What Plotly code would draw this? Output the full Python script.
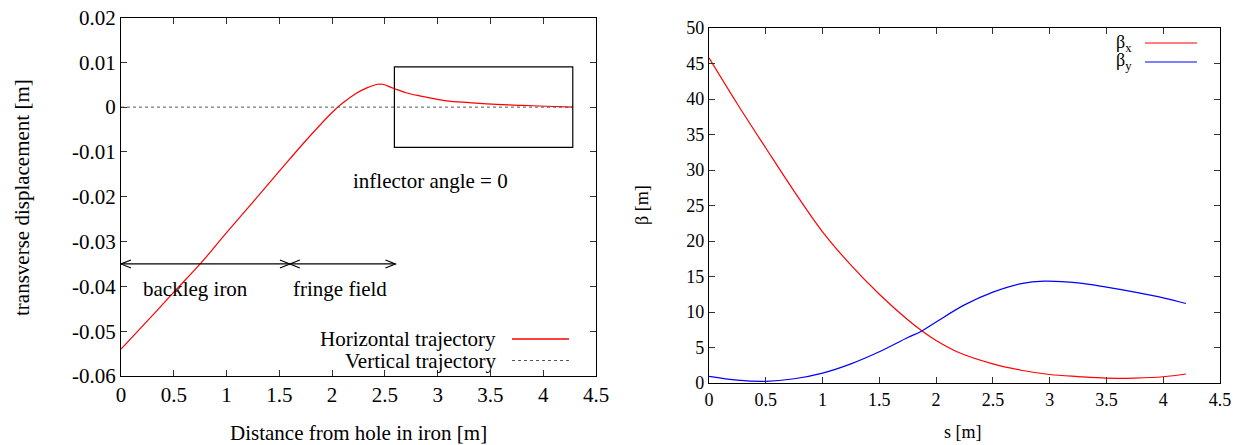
import plotly.graph_objects as go

# ---------------- Data: left panel (trajectory) ----------------
traj_s = [0.0, 0.25, 0.5, 0.75, 1.0, 1.25, 1.5, 1.75, 2.0, 2.1, 2.23, 2.33, 2.43, 2.48,
          2.58, 2.70, 2.83, 3.08, 3.3, 3.56, 3.8, 4.03, 4.28]
traj_x = [-0.054, -0.0477, -0.0413, -0.035, -0.0280, -0.0212, -0.0143, -0.0075, -0.0012, 0.0009,
          0.0031, 0.0043, 0.0051, 0.0051, 0.0042, 0.0032, 0.0025, 0.0014, 0.001, 0.0006, 0.0004,
          0.0002, 0.0]
traj_y_s = [0.0, 4.28]
traj_y = [0.0, 0.0]

box_s = [2.59, 4.28]
box_v = [-0.009, 0.009]
arrow_y = -0.035
arrow_segments = [(0.0, 1.6), (1.6, 2.6)]
region_labels = [("backleg iron", 0.71, -0.0405), ("fringe field", 2.07, -0.0405),
                 ("inflector angle = 0", 2.93, -0.0164)]

left_xticks = [0, 0.5, 1, 1.5, 2, 2.5, 3, 3.5, 4, 4.5]
left_xticktext = ["0", "0.5", "1", "1.5", "2", "2.5", "3", "3.5", "4", "4.5"]
left_yticks = [0.02, 0.01, 0, -0.01, -0.02, -0.03, -0.04, -0.05, -0.06]
left_yticktext = ["0.02", "0.01", "0", "-0.01", "-0.02", "-0.03", "-0.04", "-0.05", "-0.06"]

# ---------------- Data: right panel (beta functions) ----------------
beta_s = [0.0, 0.25, 0.5, 0.75, 1.0, 1.25, 1.5, 1.75, 1.87, 2.0, 2.2, 2.5, 2.75, 3.0,
          3.25, 3.5, 3.75, 4.0, 4.2]
beta_x = [45.8, 39.3, 33.1, 27.0, 21.3, 16.6, 12.5, 8.9, 7.4, 6.0, 4.3, 2.7, 1.8, 1.2,
          0.9, 0.68, 0.7, 0.88, 1.27]
beta_y_s = [0.0, 0.25, 0.5, 0.75, 1.0, 1.25, 1.5, 1.75, 1.87, 2.0, 2.25, 2.5, 2.75, 2.95,
            3.25, 3.5, 3.75, 4.0, 4.2]
beta_y = [0.94, 0.4, 0.24, 0.6, 1.4, 2.7, 4.4, 6.4, 7.3, 8.6, 11.0, 12.8, 14.0, 14.35,
          14.1, 13.5, 12.8, 12.0, 11.2]

right_xticks = left_xticks
right_xticktext = left_xticktext
right_yticks = [0, 5, 10, 15, 20, 25, 30, 35, 40, 45, 50]

FONT = "Liberation Serif, Times New Roman, Times, serif"
LF = 21   # left panel text size
RF = 18   # right panel text size
W, H = 1241, 445

fig = go.Figure()

fig.add_trace(go.Scatter(x=traj_s, y=traj_x, mode="lines", line=dict(color="#ff0000", width=1.2, shape="spline"),
                         xaxis="x", yaxis="y", showlegend=False))
fig.add_trace(go.Scatter(x=traj_y_s, y=traj_y, mode="lines", line=dict(color="#555555", width=1, dash="dot"),
                         xaxis="x", yaxis="y", showlegend=False))
fig.add_trace(go.Scatter(x=beta_s, y=beta_x, mode="lines", line=dict(color="#ff0000", width=1.2, shape="spline"),
                         xaxis="x2", yaxis="y2", showlegend=False))
fig.add_trace(go.Scatter(x=beta_y_s, y=beta_y, mode="lines", line=dict(color="#0000ff", width=1.2, shape="spline"),
                         xaxis="x2", yaxis="y2", showlegend=False))

# pixel frames
L = dict(x0=121, x1=596, y0=17.5, y1=376)
R = dict(x0=709, x1=1220, y0=28, y1=383)

axis_common = dict(showline=True, linecolor="black", linewidth=1.2, mirror="allticks", ticks="inside",
                   ticklen=6, tickcolor="#333", showgrid=False, zeroline=False, automargin=False)

fig.update_layout(
    width=W, height=H, margin=dict(l=0, r=0, t=0, b=0, pad=0, autoexpand=False),
    paper_bgcolor="white", plot_bgcolor="white",
    font=dict(family=FONT, color="black"),
    xaxis=dict(domain=[L["x0"] / W, L["x1"] / W], range=[0, 4.5], tickvals=left_xticks, ticktext=left_xticktext,
               tickfont=dict(size=LF, family=FONT), anchor="y", **axis_common),
    yaxis=dict(domain=[1 - L["y1"] / H, 1 - L["y0"] / H], range=[-0.06, 0.02], tickvals=left_yticks,
               ticktext=left_yticktext, tickfont=dict(size=LF, family=FONT), anchor="x", **axis_common),
    xaxis2=dict(domain=[R["x0"] / W, R["x1"] / W], range=[0, 4.5], tickvals=right_xticks, ticktext=right_xticktext,
                tickfont=dict(size=RF, family=FONT), anchor="y2", **axis_common),
    yaxis2=dict(domain=[1 - R["y1"] / H, 1 - R["y0"] / H], range=[0, 50], tickvals=right_yticks,
                tickfont=dict(size=RF, family=FONT), anchor="x2", **axis_common),
)

shapes = []
annotations = []

# inflector box
shapes.append(dict(type="rect", xref="x", yref="y", x0=box_s[0], x1=box_s[1], y0=box_v[0], y1=box_v[1],
                   line=dict(color="black", width=1.2)))

# double-headed open arrows
px_per_x = (L["x1"] - L["x0"]) / 4.5
px_per_y = (L["y1"] - L["y0"]) / 0.08
hl = 10 / px_per_x
hw = 4 / px_per_y
for a, b in arrow_segments:
    shapes.append(dict(type="line", xref="x", yref="y", x0=a, x1=b, y0=arrow_y, y1=arrow_y,
                       line=dict(color="black", width=1.2)))
    path = (f"M {a + hl},{arrow_y + hw} L {a},{arrow_y} L {a + hl},{arrow_y - hw} "
            f"M {b - hl},{arrow_y + hw} L {b},{arrow_y} L {b - hl},{arrow_y - hw}")
    shapes.append(dict(type="path", xref="x", yref="y", path=path, line=dict(color="black", width=1.2)))

for txt, xv, yv in region_labels:
    annotations.append(dict(text=txt, x=xv, y=yv, xref="x", yref="y", showarrow=False,
                            font=dict(size=LF, family=FONT), xanchor="center", yanchor="middle"))

# left legend
for i, (label, col, dash) in enumerate([("Horizontal trajectory", "#ff0000", "solid"),
                                        ("Vertical trajectory", "#555555", "dot")]):
    ypx = 339 + i * 21.5
    annotations.append(dict(text=label, x=498 / W, y=1 - ypx / H, xref="paper", yref="paper", showarrow=False,
                            xanchor="right", yanchor="middle", font=dict(size=LF, family=FONT)))
    shapes.append(dict(type="line", xref="paper", yref="paper", x0=512 / W, x1=569 / W, y0=1 - ypx / H,
                       y1=1 - ypx / H, line=dict(color=col, width=1.5 if dash == "solid" else 1, dash=dash)))

# right legend
for i, (label, col) in enumerate([("β<sub>x</sub>", "#ff0000"), ("β<sub>y</sub>", "#0000ff")]):
    ypx = 43 + i * 19
    annotations.append(dict(text=label, x=1134 / W, y=1 - ypx / H, xref="paper", yref="paper",
                            showarrow=False, xanchor="right", yanchor="middle", font=dict(size=RF, family=FONT)))
    shapes.append(dict(type="line", xref="paper", yref="paper", x0=1145 / W, x1=1197 / W, y0=1 - ypx / H,
                       y1=1 - ypx / H, line=dict(color=col, width=1.2)))

# axis titles
annotations += [
    dict(text="transverse displacement [m]", x=22 / W, y=1 - 198 / H, xref="paper", yref="paper", showarrow=False,
         textangle=-90, font=dict(size=LF, family=FONT), xanchor="center", yanchor="middle"),
    dict(text="Distance from hole in iron [m]", x=358 / W, y=1 - 433 / H, xref="paper", yref="paper",
         showarrow=False, font=dict(size=LF, family=FONT), xanchor="center", yanchor="middle"),
    dict(text="β [m]", x=642 / W, y=1 - 205 / H, xref="paper", yref="paper", showarrow=False,
         textangle=-90, font=dict(size=RF, family=FONT), xanchor="center", yanchor="middle"),
    dict(text="s [m]", x=963 / W, y=1 - 432 / H, xref="paper", yref="paper", showarrow=False,
         font=dict(size=RF, family=FONT), xanchor="center", yanchor="middle"),
]

fig.update_layout(shapes=shapes, annotations=annotations)
fig.write_html("out.html", config={"displayModeBar": False},
               post_script="document.body.style.margin='0';document.body.style.overflow='hidden';")
